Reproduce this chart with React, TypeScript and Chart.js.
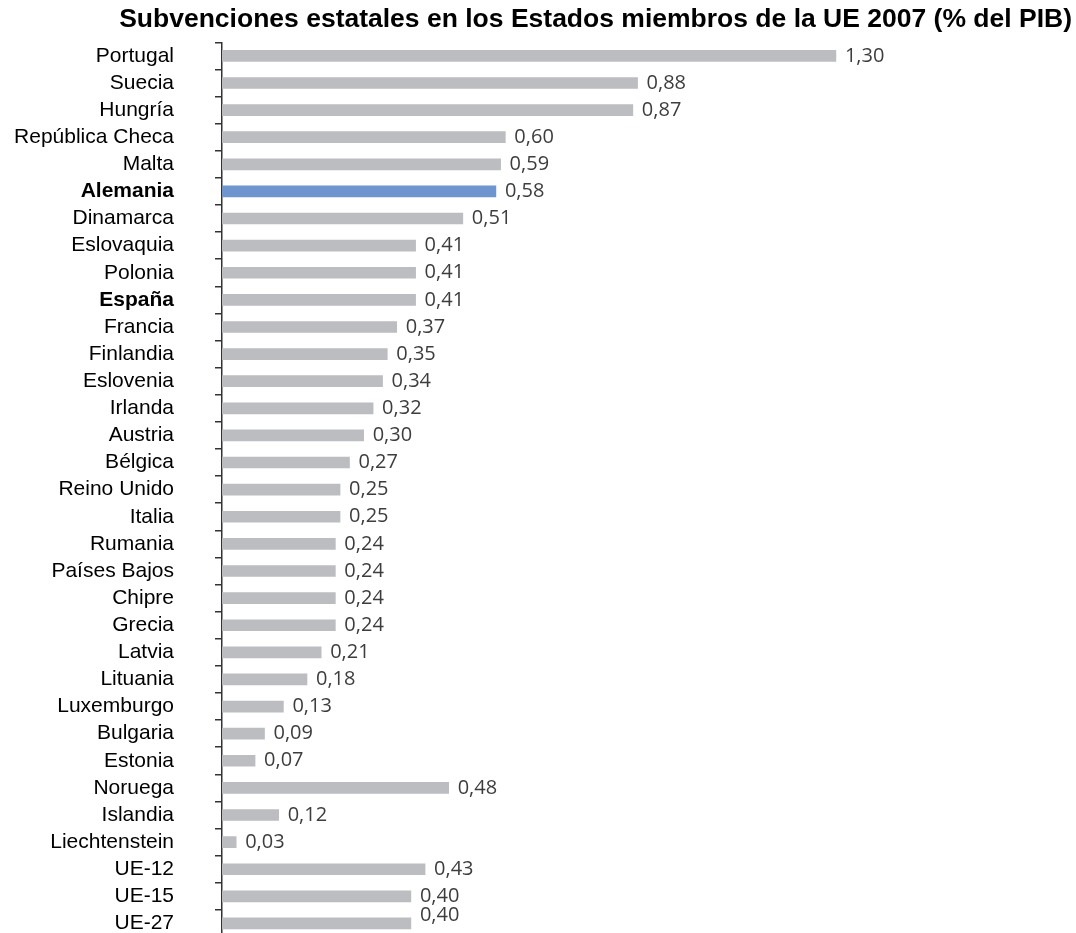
import React, { useEffect, useRef } from "react";
import { Chart, registerables } from "chart.js";

Chart.register(...registerables);

const TITLE = "Subvenciones estatales en los Estados miembros de la UE 2007 (% del PIB)";

const categories: string[] = [
  "Portugal", "Suecia", "Hungría", "República Checa", "Malta", "Alemania",
  "Dinamarca", "Eslovaquia", "Polonia", "España", "Francia", "Finlandia",
  "Eslovenia", "Irlanda", "Austria", "Bélgica", "Reino Unido", "Italia",
  "Rumania", "Países Bajos", "Chipre", "Grecia", "Latvia", "Lituania",
  "Luxemburgo", "Bulgaria", "Estonia", "Noruega", "Islandia", "Liechtenstein",
  "UE-12", "UE-15", "UE-27",
];

const values: number[] = [
  1.30, 0.88, 0.87, 0.60, 0.59, 0.58,
  0.51, 0.41, 0.41, 0.41, 0.37, 0.35,
  0.34, 0.32, 0.30, 0.27, 0.25, 0.25,
  0.24, 0.24, 0.24, 0.24, 0.21, 0.18,
  0.13, 0.09, 0.07, 0.48, 0.12, 0.03,
  0.43, 0.40, 0.40,
];

const highlighted: string[] = ["Alemania"];
const boldLabels: string[] = ["Alemania", "España"];

const GRAY = "#bcbdc1";
const BLUE = "#6f95cf";

const fmt = (v: number) => v.toFixed(2).replace(".", ",");

const valueLabels = {
  id: "valueLabels",
  afterDatasetsDraw(chart: any) {
    const ctx = chart.ctx;
    const meta = chart.getDatasetMeta(0);
    ctx.save();
    ctx.font = "20px 'Open Sans', sans-serif";
    ctx.fillStyle = "#3d3d3d";
    ctx.textAlign = "left";
    ctx.textBaseline = "middle";
    meta.data.forEach((bar: any, i: number) => {
      const dy = i === categories.length - 1 ? -8 : 0;
      ctx.fillText(fmt(values[i]), bar.x + 9, bar.y + dy);
    });
    ctx.restore();
  },
};

export default function App() {
  const ref = useRef<HTMLCanvasElement | null>(null);
  useEffect(() => {
    if (!ref.current) return;
    const chart = new Chart(ref.current, {
      type: "bar",
      data: {
        labels: categories,
        datasets: [
          {
            data: values,
            backgroundColor: categories.map((c) => (highlighted.includes(c) ? BLUE : GRAY)),
            borderWidth: 0,
            barThickness: 11,
          },
        ],
      },
      options: {
        indexAxis: "y",
        animation: false,
        responsive: true,
        maintainAspectRatio: false,
        layout: { padding: { left: 0, right: 4, top: 0, bottom: 3 } },
        plugins: {
          legend: { display: false },
          tooltip: { enabled: false },
          title: {
            display: true,
            text: TITLE,
            align: "end",
            color: "#000",
            font: { family: "Arial, 'Liberation Sans', sans-serif", size: 26.5, weight: "bold" },
            padding: { top: 4, bottom: 6.5 },
          },
        },
        scales: {
          x: {
            display: false,
            min: 0,
            max: 1.8,
          },
          y: {
            afterFit: (scale: any) => {
              scale.width = 222;
              scale.paddingTop = 0;
              scale.paddingBottom = 0;
            },
            border: { display: true, color: "#333", width: 1.5 },
            grid: {
              offset: true,
              drawOnChartArea: false,
              drawTicks: true,
              tickLength: 7,
              color: "#333",
              lineWidth: 1.5,
            },
            ticks: {
              color: "#000",
              padding: 41,
              autoSkip: false,
              font: (c: any) => ({
                family: "Arial, 'Liberation Sans', sans-serif",
                size: 21,
                weight: boldLabels.includes(categories[c.index]) ? "bold" : "normal",
              }),
            },
          },
        },
      },
      plugins: [valueLabels],
    });
    return () => chart.destroy();
  }, []);

  return (
    <div style={{ position: "fixed", left: 0, top: 0, width: 1076, height: 940, background: "#fff" }}>
      <canvas ref={ref} />
    </div>
  );
}
